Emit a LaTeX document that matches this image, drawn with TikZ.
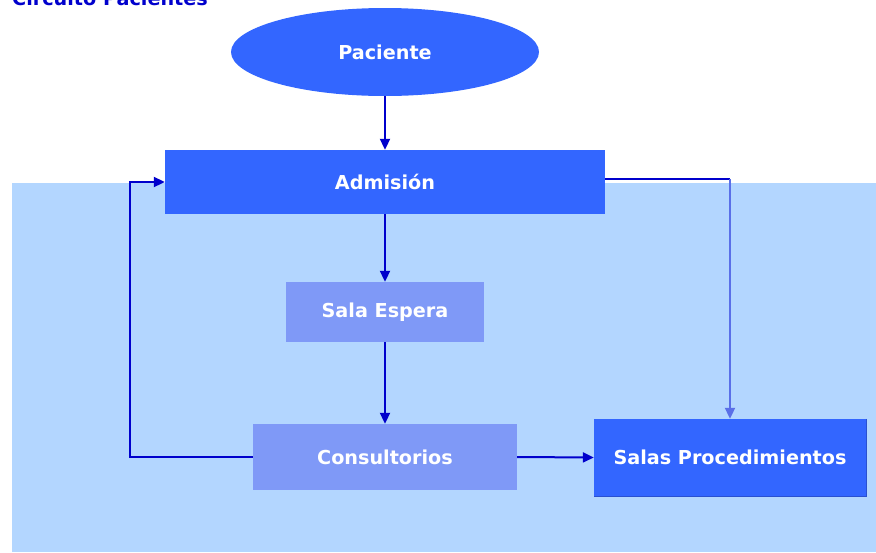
\documentclass[tikz,border=0pt]{standalone}
\usepackage{fontspec}
\setmainfont{DejaVu Sans}
\usetikzlibrary{arrows.meta,shapes.geometric}
\definecolor{boxblue}{HTML}{3366FF}
\definecolor{softblue}{HTML}{7F99F7}
\definecolor{areablue}{HTML}{B3D6FF}
\definecolor{linkblue}{HTML}{0000CC}
\definecolor{fadeblue}{HTML}{5A6FE8}
\definecolor{edgeblue}{HTML}{2A50D0}

\begin{document}
\begin{tikzpicture}[x=1pt,y=-1pt,
  link/.style={draw=linkblue,-{Triangle[length=11pt,width=10pt]},line width=2pt},
  every node/.style={font=\fontsize{19.2}{23}\selectfont\bfseries,text=white,inner sep=0pt},
  box/.style={fill=boxblue,minimum height=64pt,minimum width=440pt},
  softbox/.style={fill=softblue,minimum height=60pt,minimum width=198pt}]
  \useasboundingbox (0,0) rectangle (876,552);
  \fill[areablue] (12,183) rectangle (876,552);
  \node[anchor=base west,text=linkblue] (title) at (12,5) {Circuito Pacientes};
  \node[ellipse,fill=boxblue,minimum width=308pt,minimum height=88pt] (pac) at (385,52) {Paciente};
  \node[box] (adm) at (385,182) {Admisión};
  \node[softbox] (esp) at (385,312) {Sala Espera};
  \node[softbox,minimum width=264pt,minimum height=66pt] (cons) at (385,457) {Consultorios};
  \node[box,minimum width=272pt,minimum height=77pt] (proc) at (730,457.5) {Salas Procedimientos};
  \draw[edgeblue,line width=1.2pt] (proc.north east) -- (proc.south east) -- (proc.south west);
  \coordinate (fold) at (730,179);
  \draw[link] (pac) -- (adm);
  \draw[link] (adm) -- (esp);
  \draw[link] (esp) -- (cons);
  \draw[link] (cons.east) -- (proc.west);
  \draw[link] (cons.west) -- ++(-123,0) |- (adm.west);
  \draw[linkblue,line width=2pt] ([yshift=3pt]adm.east) -- (fold);
  \draw[link,draw=fadeblue,fadeblue] (fold) -- (proc.north);
\end{tikzpicture}
\end{document}
